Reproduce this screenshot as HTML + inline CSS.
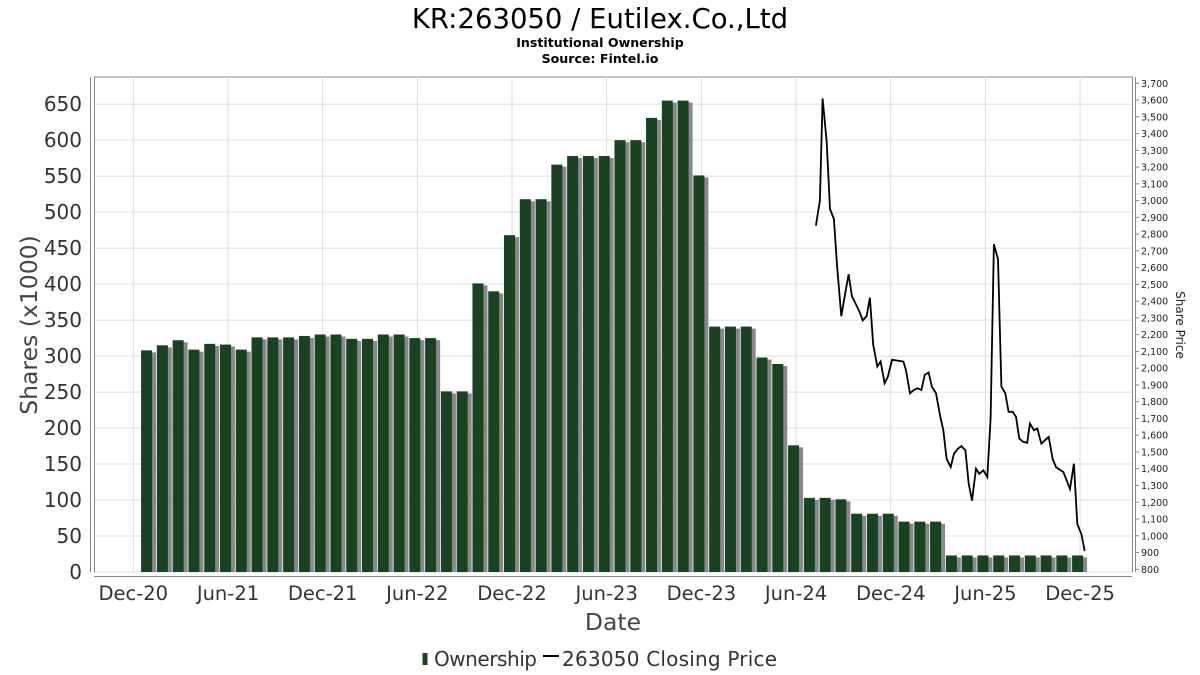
<!DOCTYPE html>
<html><head><meta charset="utf-8"><style>
body{margin:0;background:#fff;}
svg{display:block;font-family:"DejaVu Sans","Liberation Sans",sans-serif;}
</style></head><body>
<svg id="chart" width="1200" height="675" viewBox="0 0 1200 675">
<text x="600" y="28" text-anchor="middle" font-size="27.5" fill="#000">KR:263050 / Eutilex.Co.,Ltd</text>
<text x="600" y="47" text-anchor="middle" font-size="12.6" font-weight="bold" fill="#000">Institutional Ownership</text>
<text x="600" y="63" text-anchor="middle" font-size="12.6" font-weight="bold" fill="#000">Source: Fintel.io</text>
<rect x="94.5" y="77" width="1038" height="495" fill="#fff" stroke="#888"/>
<g id="grid"></g><g id="bars"></g><g id="line"></g><g id="axes"></g>
<text transform="translate(37,325) rotate(-90)" text-anchor="middle" font-size="23.5" fill="#444">Shares (x1000)</text>
<text transform="translate(1176,325) rotate(90)" text-anchor="middle" font-size="12" fill="#222">Share Price</text>
<text x="613" y="630" text-anchor="middle" font-size="23.5" fill="#444">Date</text>
<g>
<rect x="422.5" y="653" width="5" height="12" fill="#1a4222"/>
<text x="434" y="666" font-size="20" textLength="103" fill="#333">Ownership</text>
<line x1="543" y1="656" x2="559" y2="656" stroke="#000" stroke-width="2"/>
<text x="562" y="666" font-size="20" textLength="215" fill="#333">263050 Closing Price</text>
</g>
</svg>
<script>
const xTickLabels=["Dec-20","Jun-21","Dec-21","Jun-22","Dec-22","Jun-23","Dec-23","Jun-24","Dec-24","Jun-25","Dec-25"];
const yTicks=[0,50,100,150,200,250,300,350,400,450,500,550,600,650];
const y2Ticks=[800,900,1000,1100,1200,1300,1400,1500,1600,1700,1800,1900,2000,2100,2200,2300,2400,2500,2600,2700,2800,2900,3000,3100,3200,3300,3400,3500,3600,3700];
const ownership=[308,315,322,309,317,316,309,326,326,326,328,330,330,324,324,330,330,325,325,251,251,401,390,468,518,518,566,578,578,578,600,600,631,655,655,551,341,341,341,298,289,176,103,103,101,81,81,81,70,70,70,23,23,23,23,23,23,23,23,23];
const priceMonth=[43.26,43.51,43.68,43.94,44.15,44.40,44.61,44.87,45.12,45.33,45.54,46.01,46.22,46.47,46.68,46.89,47.15,47.36,47.61,47.82,48.08,48.80,48.96,49.22,49.47,49.68,49.94,50.15,50.40,50.61,50.87,51.12,51.33,51.54,51.80,52.01,52.26,52.47,52.73,52.94,53.15,53.40,53.61,53.87,54.12,54.33,54.54,54.80,55.01,55.26,55.47,55.72,55.94,56.15,56.40,56.65,56.82,57.08,57.29,57.54,58.01,58.26,58.47,58.94,59.36,59.61,59.82,60.08,60.29];
const price=[2850,3000,3610,3350,2950,2890,2600,2310,2450,2560,2430,2340,2285,2310,2420,2140,2010,2040,1910,1950,2050,2040,1990,1850,1870,1880,1870,1960,1975,1890,1850,1720,1630,1460,1410,1490,1520,1535,1510,1310,1210,1400,1370,1390,1350,1700,2740,2650,1890,1850,1740,1740,1710,1580,1560,1555,1670,1630,1640,1550,1590,1460,1410,1380,1280,1430,1070,1010,910];
const NS="http://www.w3.org/2000/svg";
const X=m=>133.3+m*15.78;
const Y=v=>572-v*0.7197;
const Y2=p=>569.3-(p-800)*0.16759;
function mk(tag,attrs,parent,txt){const e=document.createElementNS(NS,tag);for(const k in attrs)e.setAttribute(k,attrs[k]);if(txt!==undefined)e.textContent=txt;document.getElementById(parent).appendChild(e);return e;}
yTicks.forEach(v=>{
 const g=mk('line',{x1:95,x2:1132,y1:Y(v),y2:Y(v),stroke:'#ddd'},'grid');
 
 
 const t=mk('text',{x:82,y:Y(v)+7,'text-anchor':'end','font-size':20,fill:'#333'},'axes',v);
 
 
});
xTickLabels.forEach((l,i)=>{
 const g=mk('line',{x1:X(i*6),x2:X(i*6),y1:77,y2:572,stroke:'#ddd'},'grid');
 
 
 const t=mk('text',{x:X(i*6),y:600,'text-anchor':'middle','font-size':19.5,fill:'#333'},'axes',l);
 
 
});
mk('line',{x1:94,x2:1132,y1:576.5,y2:576.5,stroke:'#888'},'axes');
mk('line',{x1:90.5,x2:90.5,y1:77,y2:572,stroke:'#888'},'axes');
mk('line',{x1:1135.5,x2:1135.5,y1:77,y2:572,stroke:'#888'},'axes');
y2Ticks.forEach(p=>{
 mk('line',{x1:1135,x2:1139,y1:Y2(p),y2:Y2(p),stroke:'#888'},'axes');
 const t=mk('text',{x:1141,y:Y2(p)+3.5,'font-size':9.5,fill:'#222'},'axes',p.toLocaleString('en-US'));
 
 
});
ownership.forEach((v,i)=>{
 const cx=X(i+1)-2;
 const s=mk('rect',{x:cx-5+3,y:Y(v)+2,width:11,height:572-Y(v)-2,fill:'#888'},'bars');
 
 
 const b=mk('rect',{x:cx-6,y:Y(v),width:11,height:572-Y(v),fill:'#1a4222'},'bars');
 
 
});
const d=price.map((p,i)=>(i?'L':'M')+X(priceMonth[i]).toFixed(1)+','+Y2(p).toFixed(1)).join(' ');
const pl=mk('path',{d:d,fill:'none',stroke:'#000','stroke-width':1.8},'line');


</script>
</body></html>
